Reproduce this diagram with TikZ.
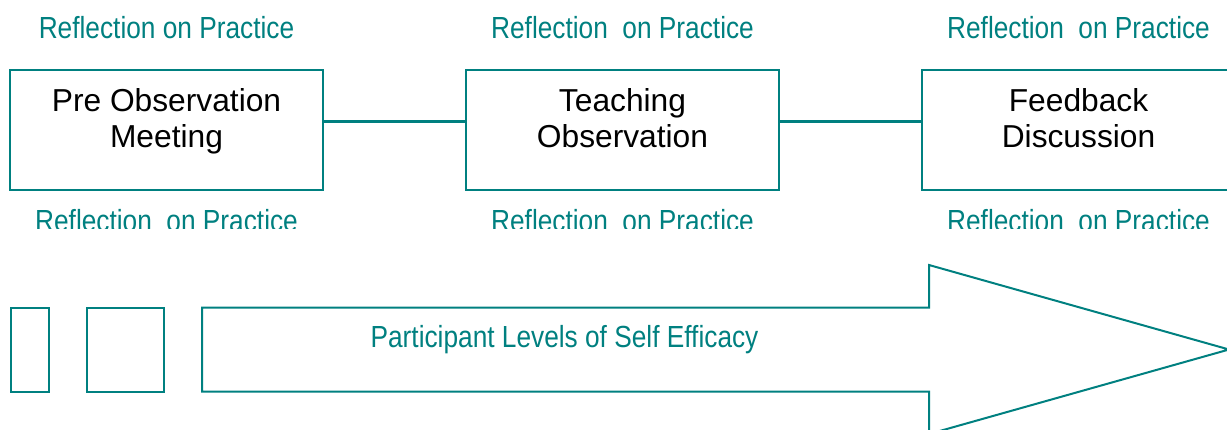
\documentclass[tikz,border=0pt]{standalone}
\usepackage{fontspec}
\setmainfont{Liberation Sans}
\newfontfamily\narrowsans[FakeStretch=0.86]{Liberation Sans}
\usepackage{tikz}
\usetikzlibrary{positioning}

\definecolor{reflteal}{RGB}{0,128,128}

\begin{document}
\begin{tikzpicture}[x=0.75pt, y=-0.75pt,
    stagebox/.style={draw=reflteal, line width=1.5pt, minimum width=234.75pt,
      minimum height=90pt, inner sep=0pt},
    stagetext/.style={font=\fontsize{23.8}{27}\selectfont, align=center,
      anchor=north, inner sep=0pt},
    refltext/.style={font=\narrowsans\fontsize{22.9}{27}\selectfont,
      text=reflteal, anchor=base, inner sep=0pt},
    link/.style={draw=reflteal, line width=2.4pt},
    levelbox/.style={draw=reflteal, line width=1.5pt}]

    \path[use as bounding box, clip] (0,0) rectangle (1227,429);

    % Top row: the three stages
    \node[stagebox] (pre) at (166.5,130) {};
    \node[stagebox] (teach) at (622.5,130) {};
    \node[stagebox] (feed) at (1078.5,130) {};
    \node[stagetext] (pretext) at (166.5,88) {Pre Observation\\Meeting};
    \node[stagetext] (teachtext) at (622.5,88) {Teaching\\Observation};
    \node[stagetext] (feedtext) at (1078.5,88) {Feedback\\Discussion};

    % Links between stages, a little above the middle
    \draw[link] ([yshift=6.2pt]pre.east) -- ([yshift=6.2pt]teach.west);
    \draw[link] ([yshift=6.2pt]teach.east) -- ([yshift=6.2pt]feed.west);

    % Reflection labels above
    \node[refltext] (preup) at (166.5,38.3) {Reflection on Practice};
    \node[refltext] (teachup) at (622.5,38.3) {Reflection~~on Practice};
    \node[refltext] (feedup) at (1078.5,38.3) {Reflection~~on Practice};

    % Reflection labels below, cut off at their base
    \begin{scope}
      \clip (0,0) rectangle (1227,228.5);
      \node[refltext] (predown) at (166.5,231.7) {Reflection~~on Practice};
      \node[refltext] (teachdown) at (622.5,231.7) {Reflection~~on Practice};
      \node[refltext] (feeddown) at (1078.5,231.7) {Reflection~~on Practice};
    \end{scope}

    % Bottom row: levels of self efficacy
    \draw[levelbox] (11,307.5) rectangle (49,391.5);
    \draw[levelbox] (87,307.5) rectangle (164,391.5);
    \draw[levelbox, line join=miter] (202,307.5) -- (929,307.5) -- (929,265)
      -- (1229,349.5) -- (929,434) -- (929,391.5) -- (202,391.5) -- cycle;
    \node[refltext, anchor=center] (efficacy) at (564.5,340)
      {Participant Levels of Self Efficacy};

\end{tikzpicture}
\end{document}
